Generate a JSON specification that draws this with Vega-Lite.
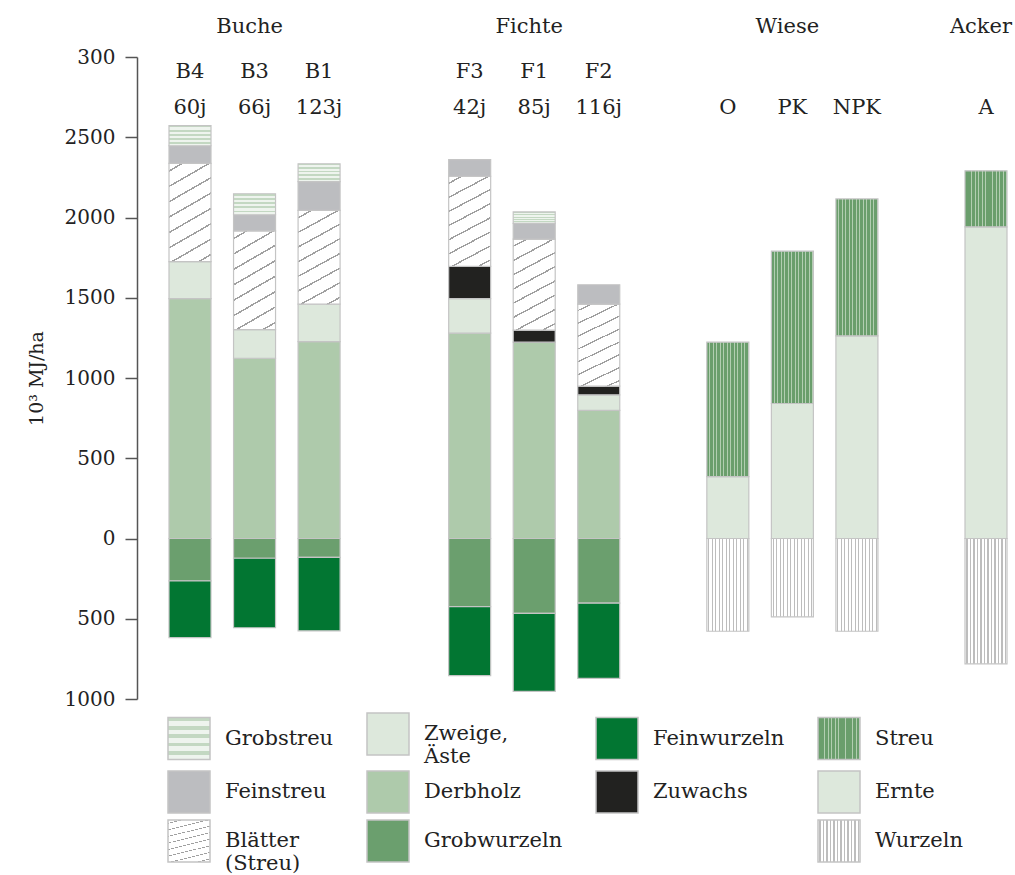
{
  "$schema": "https://vega.github.io/schema/vega-lite/v6.json",
  "autosize": {"type": "none"},
  "width": 875,
  "height": 642,
  "padding": {"left": 137, "top": 57, "right": 3, "bottom": 176},
  "config": {
    "font": "DejaVu Serif",
    "view": {"stroke": null},
    "axis": {"labelFont": "DejaVu Serif", "titleFont": "DejaVu Serif"}
  },
  "datasets": {
    "bars": [
      {"bar": "B4", "component": "Derbholz", "value": 1495},
      {"bar": "B4", "component": "Zweige, Äste", "value": 230},
      {"bar": "B4", "component": "Blätter (Streu)", "value": 612},
      {"bar": "B4", "component": "Feinstreu", "value": 110},
      {"bar": "B4", "component": "Grobstreu", "value": 125},
      {"bar": "B4", "component": "Grobwurzeln", "value": -264},
      {"bar": "B4", "component": "Feinwurzeln", "value": -353},
      {"bar": "B3", "component": "Derbholz", "value": 1123},
      {"bar": "B3", "component": "Zweige, Äste", "value": 179},
      {"bar": "B3", "component": "Blätter (Streu)", "value": 615},
      {"bar": "B3", "component": "Feinstreu", "value": 100},
      {"bar": "B3", "component": "Grobstreu", "value": 131},
      {"bar": "B3", "component": "Grobwurzeln", "value": -123},
      {"bar": "B3", "component": "Feinwurzeln", "value": -433},
      {"bar": "B1", "component": "Derbholz", "value": 1227},
      {"bar": "B1", "component": "Zweige, Äste", "value": 233},
      {"bar": "B1", "component": "Blätter (Streu)", "value": 584},
      {"bar": "B1", "component": "Feinstreu", "value": 180},
      {"bar": "B1", "component": "Grobstreu", "value": 111},
      {"bar": "B1", "component": "Grobwurzeln", "value": -118},
      {"bar": "B1", "component": "Feinwurzeln", "value": -457},
      {"bar": "F3", "component": "Derbholz", "value": 1279},
      {"bar": "F3", "component": "Zweige, Äste", "value": 216},
      {"bar": "F3", "component": "Zuwachs", "value": 200},
      {"bar": "F3", "component": "Blätter (Streu)", "value": 562},
      {"bar": "F3", "component": "Feinstreu", "value": 104},
      {"bar": "F3", "component": "Grobwurzeln", "value": -424},
      {"bar": "F3", "component": "Feinwurzeln", "value": -430},
      {"bar": "F1", "component": "Derbholz", "value": 1223},
      {"bar": "F1", "component": "Zuwachs", "value": 75},
      {"bar": "F1", "component": "Blätter (Streu)", "value": 567},
      {"bar": "F1", "component": "Feinstreu", "value": 98},
      {"bar": "F1", "component": "Grobstreu", "value": 72},
      {"bar": "F1", "component": "Grobwurzeln", "value": -467},
      {"bar": "F1", "component": "Feinwurzeln", "value": -486},
      {"bar": "F2", "component": "Derbholz", "value": 798},
      {"bar": "F2", "component": "Zweige, Äste", "value": 97},
      {"bar": "F2", "component": "Zuwachs", "value": 54},
      {"bar": "F2", "component": "Blätter (Streu)", "value": 511},
      {"bar": "F2", "component": "Feinstreu", "value": 121},
      {"bar": "F2", "component": "Grobwurzeln", "value": -403},
      {"bar": "F2", "component": "Feinwurzeln", "value": -469},
      {"bar": "O", "component": "Ernte", "value": 386},
      {"bar": "O", "component": "Streu", "value": 837},
      {"bar": "O", "component": "Wurzeln", "value": -578},
      {"bar": "PK", "component": "Ernte", "value": 841},
      {"bar": "PK", "component": "Streu", "value": 949},
      {"bar": "PK", "component": "Wurzeln", "value": -488},
      {"bar": "NPK", "component": "Ernte", "value": 1263},
      {"bar": "NPK", "component": "Streu", "value": 853},
      {"bar": "NPK", "component": "Wurzeln", "value": -578},
      {"bar": "A", "component": "Ernte", "value": 1942},
      {"bar": "A", "component": "Streu", "value": 349},
      {"bar": "A", "component": "Wurzeln", "value": -781}
    ],
    "labels": [
      {"bar": "B4", "l1": "B4", "l2": "60j"},
      {"bar": "B3", "l1": "B3", "l2": "66j"},
      {"bar": "B1", "l1": "B1", "l2": "123j"},
      {"bar": "F3", "l1": "F3", "l2": "42j"},
      {"bar": "F1", "l1": "F1", "l2": "85j"},
      {"bar": "F2", "l1": "F2", "l2": "116j"},
      {"bar": "O", "l1": "", "l2": "O"},
      {"bar": "PK", "l1": "", "l2": "PK"},
      {"bar": "NPK", "l1": "", "l2": "NPK"},
      {"bar": "A", "l1": "", "l2": "A"}
    ],
    "groups": [
      {"bar": "B3", "group": "Buche"},
      {"bar": "F1", "group": "Fichte"},
      {"bar": "PK", "group": "Wiese"},
      {"bar": "A", "group": "Acker"}
    ]
  },
  "encoding": {
    "x": {
      "field": "bar",
      "type": "nominal",
      "scale": {
        "type": "point",
        "domain": ["B4", "s1", "s2", "B3", "s3", "s4", "B1", "s5", "s6", "s7", "s8", "s9", "s10", "F3", "s11", "s12", "F1", "s13", "s14", "F2", "s15", "s16", "s17", "s18", "s19", "O", "s20", "s21", "PK", "s22", "s23", "NPK", "s24", "s25", "s26", "s27", "s28", "A"],
        "range": [53, 849],
        "padding": 0
      },
      "axis": null
    }
  },
  "layer": [
    {
      "data": {"name": "bars"},
      "transform": [
        {"calculate": "indexof(['Derbholz','Zweige, Äste','Zuwachs','Blätter (Streu)','Feinstreu','Grobstreu','Ernte','Streu','Grobwurzeln','Feinwurzeln','Wurzeln'], datum.component)", "as": "stackOrder"}
      ],
      "mark": {"type": "bar", "width": 42, "stroke": "#c4c4c4", "strokeWidth": 1.2},
      "encoding": {
        "y": {
          "field": "value",
          "type": "quantitative",
          "stack": "zero",
          "scale": {"domain": [-1000, 3000], "nice": false, "zero": false},
          "axis": {
            "values": [-1000, -500, 0, 500, 1000, 1500, 2000, 2500, 3000],
            "labelExpr": "datum.value == 3000 ? '300' : format(abs(datum.value), 'd')",
            "labelFontSize": 20,
            "labelColor": "#222222",
            "labelPadding": 10,
            "tickSize": 12,
            "tickColor": "#555555",
            "tickWidth": 1.5,
            "domainColor": "#555555",
            "domainWidth": 1.5,
            "grid": false,
            "title": "10³ MJ/ha",
            "titleFontSize": 19,
            "titleFontWeight": "normal",
            "titleColor": "#222222",
            "titlePadding": 18
          }
        },
        "order": {"field": "stackOrder", "type": "quantitative"},
        "color": {
          "field": "component",
          "type": "nominal",
          "scale": {
            "domain": ["Grobstreu", "Zweige, Äste", "Feinwurzeln", "Streu", "Feinstreu", "Derbholz", "Zuwachs", "Ernte", "Blätter (Streu)", "Grobwurzeln", " ", "Wurzeln"],
            "range": [
              {"expr": "{gradient: 'linear', x1: 0, y1: 0, x2: 0, y2: 1, stops: [{offset: 0, color: '#c3d8c2'}, {offset: 0.09, color: '#c3d8c2'}, {offset: 0.09, color: '#eef4ee'}, {offset: 0.2, color: '#eef4ee'}, {offset: 0.2, color: '#c3d8c2'}, {offset: 0.29, color: '#c3d8c2'}, {offset: 0.29, color: '#eef4ee'}, {offset: 0.4, color: '#eef4ee'}, {offset: 0.4, color: '#c3d8c2'}, {offset: 0.49, color: '#c3d8c2'}, {offset: 0.49, color: '#eef4ee'}, {offset: 0.6, color: '#eef4ee'}, {offset: 0.6, color: '#c3d8c2'}, {offset: 0.69, color: '#c3d8c2'}, {offset: 0.69, color: '#eef4ee'}, {offset: 0.8, color: '#eef4ee'}, {offset: 0.8, color: '#c3d8c2'}, {offset: 0.89, color: '#c3d8c2'}, {offset: 0.89, color: '#eef4ee'}, {offset: 1, color: '#eef4ee'}]}"},
              "#dde8dc",
              "#027632",
              {"expr": "{gradient: 'linear', x1: 0, y1: 0, x2: 1, y2: 0, stops: [{offset: 0, color: '#6a9e6c'}, {offset: 0.06, color: '#6a9e6c'}, {offset: 0.06, color: '#b2ceb1'}, {offset: 0.0833, color: '#b2ceb1'}, {offset: 0.0833, color: '#6a9e6c'}, {offset: 0.1433, color: '#6a9e6c'}, {offset: 0.1433, color: '#b2ceb1'}, {offset: 0.1667, color: '#b2ceb1'}, {offset: 0.1667, color: '#6a9e6c'}, {offset: 0.2267, color: '#6a9e6c'}, {offset: 0.2267, color: '#b2ceb1'}, {offset: 0.25, color: '#b2ceb1'}, {offset: 0.25, color: '#6a9e6c'}, {offset: 0.31, color: '#6a9e6c'}, {offset: 0.31, color: '#b2ceb1'}, {offset: 0.3333, color: '#b2ceb1'}, {offset: 0.3333, color: '#6a9e6c'}, {offset: 0.3933, color: '#6a9e6c'}, {offset: 0.3933, color: '#b2ceb1'}, {offset: 0.4167, color: '#b2ceb1'}, {offset: 0.4167, color: '#6a9e6c'}, {offset: 0.4767, color: '#6a9e6c'}, {offset: 0.4767, color: '#b2ceb1'}, {offset: 0.5, color: '#b2ceb1'}, {offset: 0.5, color: '#6a9e6c'}, {offset: 0.56, color: '#6a9e6c'}, {offset: 0.56, color: '#b2ceb1'}, {offset: 0.5833, color: '#b2ceb1'}, {offset: 0.5833, color: '#6a9e6c'}, {offset: 0.6433, color: '#6a9e6c'}, {offset: 0.6433, color: '#b2ceb1'}, {offset: 0.6667, color: '#b2ceb1'}, {offset: 0.6667, color: '#6a9e6c'}, {offset: 0.7267, color: '#6a9e6c'}, {offset: 0.7267, color: '#b2ceb1'}, {offset: 0.75, color: '#b2ceb1'}, {offset: 0.75, color: '#6a9e6c'}, {offset: 0.81, color: '#6a9e6c'}, {offset: 0.81, color: '#b2ceb1'}, {offset: 0.8333, color: '#b2ceb1'}, {offset: 0.8333, color: '#6a9e6c'}, {offset: 0.8933, color: '#6a9e6c'}, {offset: 0.8933, color: '#b2ceb1'}, {offset: 0.9167, color: '#b2ceb1'}, {offset: 0.9167, color: '#6a9e6c'}, {offset: 0.9767, color: '#6a9e6c'}, {offset: 0.9767, color: '#b2ceb1'}, {offset: 1, color: '#b2ceb1'}]}"},
              "#bcbdc0",
              "#aecaab",
              "#222220",
              "#dde8dc",
              {"expr": "{gradient: 'linear', x1: 0, y1: 0, x2: 0.29, y2: 1.18, stops: [{offset: 0, color: '#ffffff'}, {offset: 0.0555, color: '#ffffff'}, {offset: 0.0555, color: '#a0a0a0'}, {offset: 0.0695, color: '#a0a0a0'}, {offset: 0.0695, color: '#ffffff'}, {offset: 0.1805, color: '#ffffff'}, {offset: 0.1805, color: '#a0a0a0'}, {offset: 0.1945, color: '#a0a0a0'}, {offset: 0.1945, color: '#ffffff'}, {offset: 0.3055, color: '#ffffff'}, {offset: 0.3055, color: '#a0a0a0'}, {offset: 0.3195, color: '#a0a0a0'}, {offset: 0.3195, color: '#ffffff'}, {offset: 0.4305, color: '#ffffff'}, {offset: 0.4305, color: '#a0a0a0'}, {offset: 0.4445, color: '#a0a0a0'}, {offset: 0.4445, color: '#ffffff'}, {offset: 0.5555, color: '#ffffff'}, {offset: 0.5555, color: '#a0a0a0'}, {offset: 0.5695, color: '#a0a0a0'}, {offset: 0.5695, color: '#ffffff'}, {offset: 0.6805, color: '#ffffff'}, {offset: 0.6805, color: '#a0a0a0'}, {offset: 0.6945, color: '#a0a0a0'}, {offset: 0.6945, color: '#ffffff'}, {offset: 0.8055, color: '#ffffff'}, {offset: 0.8055, color: '#a0a0a0'}, {offset: 0.8195, color: '#a0a0a0'}, {offset: 0.8195, color: '#ffffff'}, {offset: 0.9305, color: '#ffffff'}, {offset: 0.9305, color: '#a0a0a0'}, {offset: 0.9445, color: '#a0a0a0'}, {offset: 0.9445, color: '#ffffff'}, {offset: 1, color: '#ffffff'}]}"},
              "#6b9f6e",
              "transparent",
              {"expr": "{gradient: 'linear', x1: 0, y1: 0, x2: 1, y2: 0, stops: [{offset: 0, color: '#ffffff'}, {offset: 0.035, color: '#ffffff'}, {offset: 0.035, color: '#bdbdbd'}, {offset: 0.06, color: '#bdbdbd'}, {offset: 0.06, color: '#ffffff'}, {offset: 0.1183, color: '#ffffff'}, {offset: 0.1183, color: '#bdbdbd'}, {offset: 0.1433, color: '#bdbdbd'}, {offset: 0.1433, color: '#ffffff'}, {offset: 0.2017, color: '#ffffff'}, {offset: 0.2017, color: '#bdbdbd'}, {offset: 0.2267, color: '#bdbdbd'}, {offset: 0.2267, color: '#ffffff'}, {offset: 0.285, color: '#ffffff'}, {offset: 0.285, color: '#bdbdbd'}, {offset: 0.31, color: '#bdbdbd'}, {offset: 0.31, color: '#ffffff'}, {offset: 0.3683, color: '#ffffff'}, {offset: 0.3683, color: '#bdbdbd'}, {offset: 0.3933, color: '#bdbdbd'}, {offset: 0.3933, color: '#ffffff'}, {offset: 0.4517, color: '#ffffff'}, {offset: 0.4517, color: '#bdbdbd'}, {offset: 0.4767, color: '#bdbdbd'}, {offset: 0.4767, color: '#ffffff'}, {offset: 0.535, color: '#ffffff'}, {offset: 0.535, color: '#bdbdbd'}, {offset: 0.56, color: '#bdbdbd'}, {offset: 0.56, color: '#ffffff'}, {offset: 0.6183, color: '#ffffff'}, {offset: 0.6183, color: '#bdbdbd'}, {offset: 0.6433, color: '#bdbdbd'}, {offset: 0.6433, color: '#ffffff'}, {offset: 0.7017, color: '#ffffff'}, {offset: 0.7017, color: '#bdbdbd'}, {offset: 0.7267, color: '#bdbdbd'}, {offset: 0.7267, color: '#ffffff'}, {offset: 0.785, color: '#ffffff'}, {offset: 0.785, color: '#bdbdbd'}, {offset: 0.81, color: '#bdbdbd'}, {offset: 0.81, color: '#ffffff'}, {offset: 0.8683, color: '#ffffff'}, {offset: 0.8683, color: '#bdbdbd'}, {offset: 0.8933, color: '#bdbdbd'}, {offset: 0.8933, color: '#ffffff'}, {offset: 0.9517, color: '#ffffff'}, {offset: 0.9517, color: '#bdbdbd'}, {offset: 0.9767, color: '#bdbdbd'}, {offset: 0.9767, color: '#ffffff'}, {offset: 1, color: '#ffffff'}]}"}
            ]
          },
          "legend": {
            "orient": "none",
            "legendX": 30,
            "legendY": 655,
            "columns": 4,
            "direction": "horizontal",
            "gridAlign": "each",
            "columnPadding": 30,
            "rowPadding": 1,
            "title": null,
            "symbolType": "square",
            "symbolSize": 1764,
            "symbolStrokeColor": {"expr": "datum.value === ' ' ? 'transparent' : '#c4c4c4'"},
            "symbolStrokeWidth": 1.5,
            "symbolOpacity": 1,
            "labelFont": "DejaVu Serif",
            "labelFontSize": 21,
            "labelColor": "#222222",
            "labelOffset": 14,
            "labelLimit": 300,
            "labelExpr": "datum.value == 'Zweige, Äste' ? ['Zweige,', 'Äste'] : datum.value == 'Blätter (Streu)' ? ['Blätter', '(Streu)'] : datum.label"
          }
        }
      }
    },
    {
      "mark": {"type": "rule", "color": "#222222", "strokeWidth": 2.5},
      "encoding": {"y": {"datum": 0}, "x": null}
    },
    {
      "data": {"name": "labels"},
      "mark": {"type": "text", "fontSize": 21, "color": "#222222", "baseline": "middle"},
      "encoding": {"y": {"datum": 2905}, "text": {"field": "l1"}}
    },
    {
      "data": {"name": "labels"},
      "mark": {"type": "text", "fontSize": 21, "color": "#222222", "baseline": "middle"},
      "encoding": {"y": {"datum": 2680}, "text": {"field": "l2"}}
    },
    {
      "data": {"name": "groups"},
      "mark": {"type": "text", "fontSize": 21, "color": "#222222", "baseline": "middle", "dx": -5},
      "encoding": {"y": {"datum": 3190}, "text": {"field": "group"}}
    }
  ]
}
